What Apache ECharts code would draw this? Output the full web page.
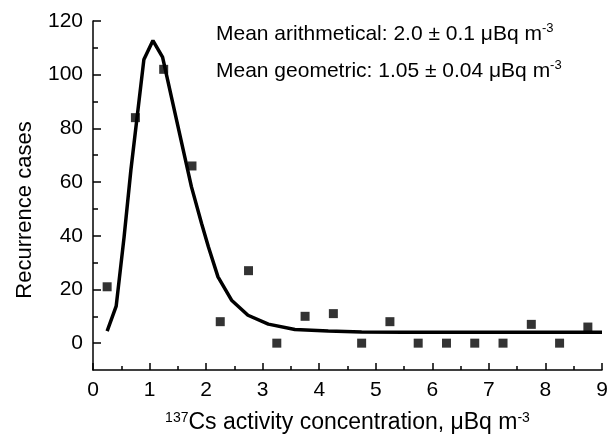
<!DOCTYPE html>
<html>
<head>
<meta charset="utf-8">
<script src="https://cdn.jsdelivr.net/npm/echarts@6/dist/echarts.min.js"></script>
<style>
  html, body { margin: 0; padding: 0; background: #fff; }
  #chart { width: 616px; height: 439px; }
</style>
</head>
<body>
<div id="chart"></div>
<script>
// measured points (squares)
var pointX = [0.25, 0.75, 1.25, 1.75, 2.25, 2.75, 3.25, 3.75, 4.25, 4.75, 5.25, 5.75, 6.25, 6.75, 7.25, 7.75, 8.25, 8.75];
var pointCases = [21, 84, 102, 66, 8, 27, 0, 10, 11, 0, 8, 0, 0, 0, 0, 7, 0, 6];

// fitted curve
var fitX = [0.25, 0.41, 0.55, 0.67, 0.9, 1.06, 1.23, 1.4, 1.6, 1.74, 1.92, 2.04, 2.21, 2.45, 2.74, 3.1, 3.57, 4.16, 4.75, 5.5, 6.5, 7.5, 9.0];
var fitCases = [4.5, 13.8, 39.6, 64.5, 105.7, 112.7, 106.5, 90.4, 71.5, 58.3, 44.6, 35.9, 24.7, 16.0, 10.4, 7.1, 5.1, 4.5, 4.2, 4.1, 4.1, 4.1, 4.1];

// tick values
var yMajorTicks = [0, 20, 40, 60, 80, 100, 120];
var yMinorTicks = [10, 30, 50, 70, 90, 110];

var FONT = '"Liberation Sans", Arial, sans-serif';

var pts = pointX.map(function (x, i) { return [x, pointCases[i]]; });
var fit = fitX.map(function (x, i) { return [x, fitCases[i]]; });

var myChart = echarts.init(document.getElementById('chart'));

function note(txt, y) {
    return {
        type: 'text',
        x: 216,
        y: y,
        style: {
            text: txt,
            fontSize: 21,
            fontFamily: FONT,
            fill: '#000',
            align: 'left',
            verticalAlign: 'middle',
            lineHeight: 24,
            rich: { sup: { fontSize: 13, fontFamily: FONT, fill: '#000', verticalAlign: 'top', lineHeight: 14 } }
        }
    };
}

var option = {
    animation: false,
    textStyle: { fontFamily: FONT, color: '#000' },
    grid: { left: 93, right: 14, top: 21, bottom: 69, containLabel: false },
    xAxis: {
        type: 'value',
        min: 0,
        max: 9,
        interval: 1,
        name: '{sup|137}Cs activity concentration, \u03bcBq m{sup|-3}',
        nameLocation: 'middle',
        nameGap: 41,
        nameTextStyle: {
            fontSize: 23, fontFamily: FONT, color: '#000',
            rich: { sup: { fontSize: 14, fontFamily: FONT, color: '#000', verticalAlign: 'top', lineHeight: 14 } }
        },
        axisLine: { onZero: false, lineStyle: { color: '#000', width: 1.5 } },
        axisTick: { inside: true, length: 7, lineStyle: { color: '#000', width: 1.5 } },
        minorTick: { show: true, splitNumber: 2, length: 4, lineStyle: { color: '#000', width: 1.5 } },
        axisLabel: { fontSize: 21, color: '#000', margin: 10, fontFamily: FONT },
        splitLine: { show: false }
    },
    yAxis: [{
        type: 'value',
        position: 'left',
        min: -10,
        max: 120,
        axisLine: { show: true, lineStyle: { color: '#000', width: 1.5 } },
        axisTick: { show: true, inside: true, length: 8, customValues: yMajorTicks, lineStyle: { color: '#000', width: 1.5 } },
        axisLabel: { fontSize: 21, color: '#000', margin: 10, fontFamily: FONT, customValues: yMajorTicks },
        splitLine: { show: false }
    }, {
        type: 'value',
        position: 'left',
        min: -10,
        max: 120,
        axisLine: { show: false },
        axisTick: { show: true, inside: true, length: 5, customValues: yMinorTicks, lineStyle: { color: '#000', width: 1.5 } },
        axisLabel: { show: false },
        splitLine: { show: false }
    }],
    graphic: [{
        type: 'text',
        x: 25,
        y: 210,
        rotation: Math.PI / 2,
        style: {
            text: 'Recurrence cases',
            font: '22px ' + FONT,
            fill: '#000',
            align: 'center',
            verticalAlign: 'middle'
        }
    },
    note('Mean arithmetical: 2.0 \u00b1 0.1 \u03bcBq m{sup|-3}', 34),
    note('Mean geometric: 1.05 \u00b1 0.04 \u03bcBq m{sup|-3}', 71)
    ],
    series: [{
        name: 'fit',
        type: 'line',
        data: fit,
        showSymbol: false,
        smooth: false,
        lineStyle: { color: '#000', width: 3.5 },
        z: 2
    }, {
        name: 'cases',
        type: 'scatter',
        data: pts,
        symbol: 'rect',
        symbolSize: 9,
        itemStyle: { color: '#000' },
        z: 3
    }]
};
myChart.setOption(option);
</script>
</body>
</html>
